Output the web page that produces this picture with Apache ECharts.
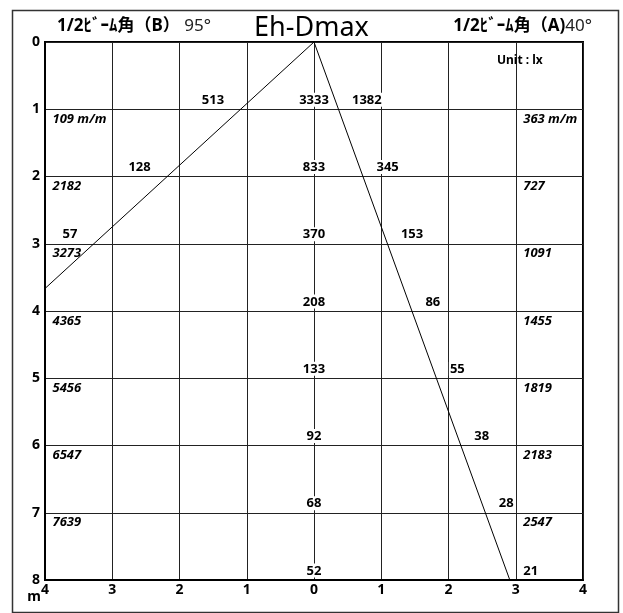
<!DOCTYPE html>
<html>
<head>
<meta charset="utf-8">
<script src="https://cdn.jsdelivr.net/npm/echarts@6/dist/echarts.min.js"></script>
<style>
html,body{margin:0;padding:0;background:#fff;}
#chart{width:623px;height:613px;}
</style>
</head>
<body>
<div id="chart"></div>
<script>
// ---- data ----
const depths = [1, 2, 3, 4, 5, 6, 7, 8];
const centerLux = [3333, 833, 370, 208, 133, 92, 68, 52];
const beamALux = [1382, 345, 153, 86, 55, 38, 28, 21];
const beamBLux = [513, 128, 57];
const diameterB = ['109 m/m', '2182', '3273', '4365', '5456', '6547', '7639'];
const diameterA = ['363 m/m', '727', '1091', '1455', '1819', '2183', '2547'];
const beamAngleB = 95;
const beamAngleA = 40;
const xTicks = [-4, -3, -2, -1, 0, 1, 2, 3, 4];
const yTicks = [0, 1, 2, 3, 4, 5, 6, 7, 8];
const titleText = 'Eh-Dmax';
const unitText = 'Unit : lx';

// ---- derived geometry ----
const rad = d => d * Math.PI / 180;
const tanB = Math.tan(rad(beamAngleB / 2));
const tanA = Math.tan(rad(beamAngleA / 2));
const xMin = xTicks[0], xMax = xTicks[xTicks.length - 1];
const yMax = yTicks[yTicks.length - 1];
const lineB = [[0, 0], [xMin, -xMin / tanB]];
const lineA = [[0, 0], [tanA * yMax, yMax]];

const FONT = '"Noto Sans", "Noto Sans CJK JP", sans-serif';
const lbl = {
  show: true, color: '#000', fontFamily: FONT, fontWeight: 'bold', fontSize: 13,
  backgroundColor: '#fff', padding: [1, 1, 0, 1]
};
const ital = {
  show: true, position: [8, 4], align: 'left', verticalAlign: 'top', color: '#000',
  fontFamily: FONT, fontStyle: 'italic', fontWeight: 'bold', fontSize: 13,
  formatter: p => p.data.txt
};
const hidden = { opacity: 1, color: 'transparent' };

const centerData = depths.map((d, i) => ({ value: [0, d], lux: centerLux[i] }));
const aData = depths.map((d, i) => ({ value: [tanA * d, d], lux: beamALux[i] }));
const bData = beamBLux.map((v, i) => ({ value: [-tanB * depths[i], depths[i]], lux: v }));
const diaBData = diameterB.map((t, i) => ({ value: [xMin, depths[i]], txt: t }));
const diaAData = diameterA.map((t, i) => ({ value: [3, depths[i]], txt: t }));

const headRich = {
  b: { fontFamily: FONT, fontSize: 17, fontWeight: 'bold', color: '#000' },
  n: { fontFamily: FONT, fontSize: 17, fontWeight: 'normal', color: '#222' }
};

const chart = echarts.init(document.getElementById('chart'), null, { renderer: 'canvas' });
chart.setOption({
  backgroundColor: '#fff',
  animation: false,
  title: [
    { text: titleText, left: 'center', top: 10,
      textStyle: { fontFamily: FONT, fontSize: 27, fontWeight: 'normal', color: '#000' } },
    { text: '{b|1/2ﾋﾞｰﾑ角（B）}{n| ' + beamAngleB + '°}', left: 52, top: 13,
      textStyle: { rich: headRich } },
    { text: '{b|1/2ﾋﾞｰﾑ角（A)}{n|' + beamAngleA + '°}', right: 26, top: 13,
      textStyle: { rich: headRich } },
    { text: unitText, left: 492, top: 50,
      textStyle: { fontFamily: FONT, fontSize: 12, fontWeight: 'bold', color: '#000' } }
  ],
  graphic: [{
    type: 'rect', left: 10, top: 8, shape: { width: 606, height: 602 },
    style: { fill: 'none', stroke: '#333', lineWidth: 1.5 }, silent: true
  }],
  grid: { left: 45, top: 42, width: 538, height: 538, show: true, borderColor: '#000', borderWidth: 2 },
  xAxis: {
    type: 'value', min: xMin, max: xMax, interval: 1,
    axisLine: { show: true, onZero: false, lineStyle: { color: '#000', width: 2 } },
    axisTick: { show: false },
    splitLine: { show: true, lineStyle: { color: '#222', width: 1 } },
    axisLabel: { color: '#000', fontFamily: FONT, fontWeight: 'bold', fontSize: 14, margin: 3,
      formatter: v => String(Math.abs(v)) }
  },
  yAxis: {
    type: 'value', min: 0, max: yMax, interval: 1, inverse: true,
    name: 'm', nameLocation: 'end', nameGap: 17, nameMoveOverlap: false,
    nameTextStyle: { color: '#000', fontFamily: FONT, fontWeight: 'bold', fontSize: 14,
      align: 'right', verticalAlign: 'middle', padding: [0, 4, 0, 0] },
    axisLine: { show: true, onZero: false, lineStyle: { color: '#000', width: 2 } },
    axisTick: { show: false },
    splitLine: { show: true, lineStyle: { color: '#222', width: 1 } },
    axisLabel: { color: '#000', fontFamily: FONT, fontWeight: 'bold', fontSize: 14, margin: 5 }
  },
  series: [
    { type: 'line', data: lineB, symbol: 'none', lineStyle: { color: '#000', width: 1 }, clip: true, z: 2 },
    { type: 'line', data: lineA, symbol: 'none', lineStyle: { color: '#000', width: 1 }, clip: true, z: 2 },
    { type: 'scatter', data: centerData, symbolSize: 1, itemStyle: hidden, z: 5,
      label: Object.assign({}, lbl, { position: 'top', distance: 2, formatter: p => p.data.lux }) },
    { type: 'scatter', data: aData, symbolSize: 1, itemStyle: hidden, z: 5,
      label: Object.assign({}, lbl, { position: [13, -2], align: 'left', verticalAlign: 'bottom',
        formatter: p => p.data.lux }) },
    { type: 'scatter', data: bData, symbolSize: 1, itemStyle: hidden, z: 5,
      label: Object.assign({}, lbl, { position: [-15, -2], align: 'right', verticalAlign: 'bottom',
        formatter: p => p.data.lux }) },
    { type: 'scatter', data: diaBData, symbolSize: 1, itemStyle: hidden, z: 5, label: ital },
    { type: 'scatter', data: diaAData, symbolSize: 1, itemStyle: hidden, z: 5, label: ital }
  ]
});
</script>
</body>
</html>
